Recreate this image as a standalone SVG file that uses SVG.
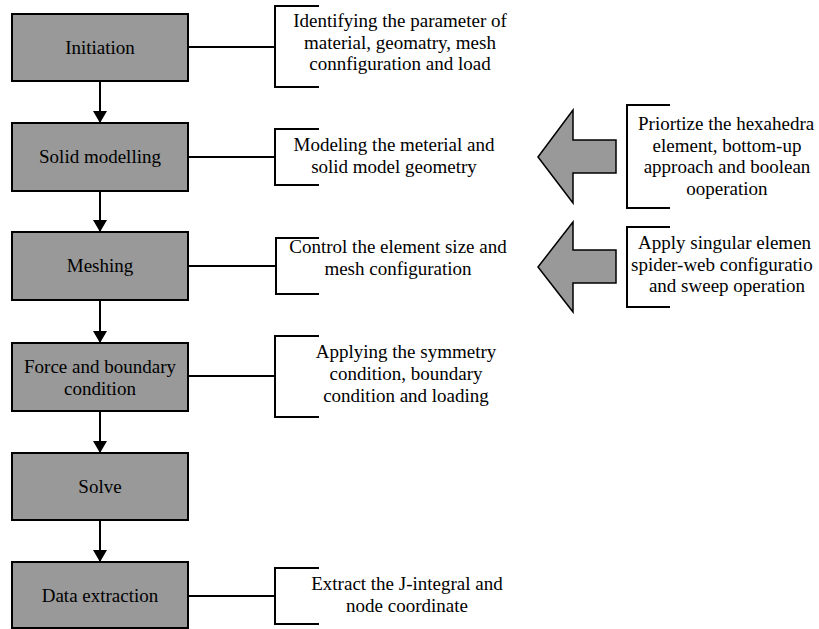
<svg xmlns="http://www.w3.org/2000/svg" width="819" height="629" viewBox="0 0 819 629">
<style>
  .box { fill: #999999; stroke: #000; stroke-width: 2; }
  .lbl { font-family: "Liberation Serif", "Times New Roman", serif; font-size: 19px; fill: #000; text-anchor: middle; }
  .note { font-family: "Liberation Serif", "Times New Roman", serif; font-size: 19px; fill: #000; text-anchor: middle; }
  .st { text-anchor: start; }
  .ln { fill: none; stroke: #000; stroke-width: 2; }
  .brk { fill: none; stroke: #000; stroke-width: 2; }
  .blk { fill: #999999; stroke: #000; stroke-width: 1.5; stroke-linejoin: miter; }
</style>
<defs>
  <marker id="ah" viewBox="0 0 12 14" refX="12" refY="7" markerWidth="12" markerHeight="14" markerUnits="userSpaceOnUse" orient="auto">
    <path d="M0,0 L12,7 L0,14 Z" fill="#000"/>
  </marker>
</defs>
<rect width="819" height="629" fill="#fff"/>

<g id="connectors">
  <line class="ln" x1="100" y1="81" x2="100" y2="123" marker-end="url(#ah)"/>
  <line class="ln" x1="100" y1="191" x2="100" y2="232" marker-end="url(#ah)"/>
  <line class="ln" x1="100" y1="300" x2="100" y2="343" marker-end="url(#ah)"/>
  <line class="ln" x1="100" y1="411" x2="100" y2="453" marker-end="url(#ah)"/>
  <line class="ln" x1="100" y1="520" x2="100" y2="562" marker-end="url(#ah)"/>
  <line class="ln" x1="188" y1="47" x2="275" y2="47"/>
  <line class="ln" x1="188" y1="157" x2="275" y2="157"/>
  <line class="ln" x1="188" y1="266" x2="275" y2="266"/>
  <line class="ln" x1="188" y1="376" x2="275" y2="376"/>
  <line class="ln" x1="188" y1="596" x2="275" y2="596"/>
</g>

<g id="initiation">
  <rect class="box" x="12" y="14" width="176" height="67"/>
  <text class="lbl" x="100" y="53.5">Initiation</text>
</g>
<g id="solid-modelling">
  <rect class="box" x="12" y="123" width="176" height="68"/>
  <text class="lbl" x="100" y="163">Solid modelling</text>
</g>
<g id="meshing">
  <rect class="box" x="12" y="232" width="176" height="68"/>
  <text class="lbl" x="100" y="272">Meshing</text>
</g>
<g id="force-boundary">
  <rect class="box" x="12" y="343" width="176" height="68"/>
  <text class="lbl" x="100" y="372.5">Force and boundary</text>
  <text class="lbl" x="100" y="394.5">condition</text>
</g>
<g id="solve">
  <rect class="box" x="12" y="453" width="176" height="67"/>
  <text class="lbl" x="100" y="493">Solve</text>
</g>
<g id="data-extraction">
  <rect class="box" x="12" y="562" width="176" height="66"/>
  <text class="lbl" x="100" y="601.5">Data extraction</text>
</g>

<g id="note-initiation">
  <path class="brk" d="M319,6 H275 V87 H319"/>
  <text class="note" x="400" y="27">Identifying the parameter of</text>
  <text class="note" x="400" y="48.5">material, geomatry, mesh</text>
  <text class="note" x="400" y="70">connfiguration and load</text>
</g>
<g id="note-solid">
  <path class="brk" d="M319,129 H275 V185 H319"/>
  <text class="note" x="394" y="151">Modeling the meterial and</text>
  <text class="note" x="394" y="173">solid model geometry</text>
</g>
<g id="note-meshing">
  <path class="brk" d="M319,238 H276 V294 H319"/>
  <text class="note" x="398" y="252.5">Control the element size and</text>
  <text class="note" x="398" y="275">mesh configuration</text>
</g>
<g id="note-force">
  <path class="brk" d="M319,336 H275 V417 H319"/>
  <text class="note" x="406" y="358">Applying the symmetry</text>
  <text class="note" x="406" y="380">condition, boundary</text>
  <text class="note" x="406" y="401.5">condition and loading</text>
</g>
<g id="note-data">
  <path class="brk" d="M319,568 H275 V624 H319"/>
  <text class="note" x="407" y="590">Extract the J-integral and</text>
  <text class="note" x="407" y="612">node coordinate</text>
</g>

<g id="hint-solid">
  <polygon class="blk" points="538,157 573,110 573,140 616,140 616,173 573,173 573,203"/>
  <path class="brk" d="M670,105 H627 V208 H670"/>
  <text class="note st" x="638" y="130">Priortize the hexahedra</text>
  <text class="note" x="727" y="151.5">element, bottom-up</text>
  <text class="note" x="727" y="173">approach and boolean</text>
  <text class="note" x="727" y="194.5">ooperation</text>
</g>
<g id="hint-meshing">
  <polygon class="blk" points="538,267 573,222 573,250 616,250 616,283 573,283 573,312"/>
  <path class="brk" d="M670,227 H627 V307 H670"/>
  <text class="note st" x="638" y="249">Apply singular elemen</text>
  <text class="note st" x="631" y="270.5">spider-web configuratio</text>
  <text class="note" x="727" y="292">and sweep operation</text>
</g>
</svg>
